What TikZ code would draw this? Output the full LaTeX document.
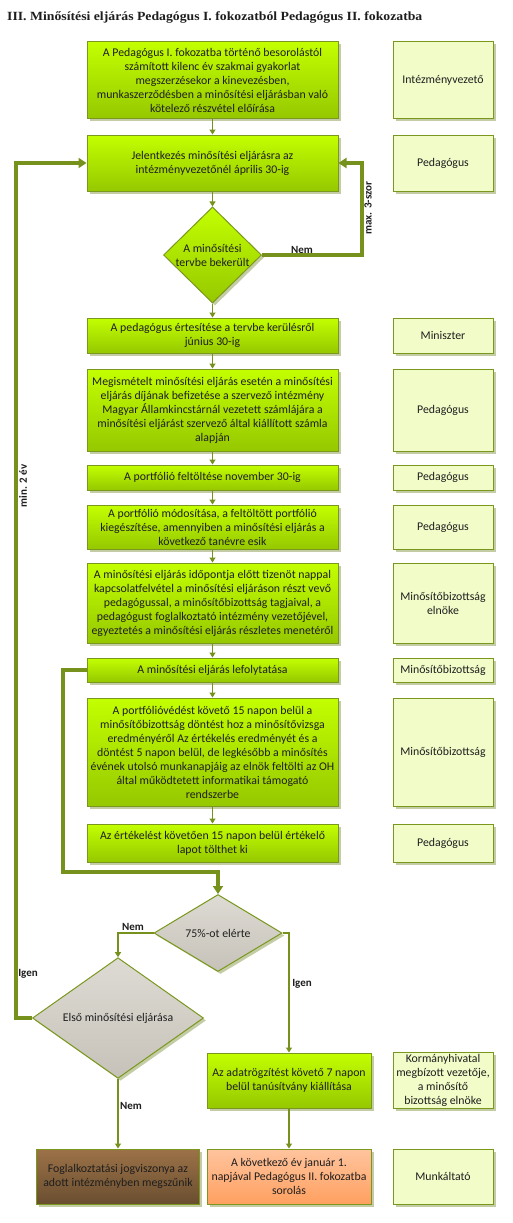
\documentclass[tikz,border=0pt]{standalone}
\usepackage{fontspec}
\setmainfont{Carlito}
\newfontfamily\titlefont[FakeStretch=1.1]{Liberation Serif}
\usetikzlibrary{arrows.meta,shapes.geometric,shadows}
\definecolor{gtop}{RGB}{195,255,0}
\definecolor{gbot}{RGB}{150,200,0}
\definecolor{gborder}{RGB}{122,152,30}
\definecolor{lineg}{RGB}{118,146,28}
\definecolor{rolefill}{RGB}{242,252,200}
\definecolor{shadowc}{RGB}{175,188,135}
\definecolor{graytop}{RGB}{222,219,212}
\definecolor{graybot}{RGB}{198,194,185}
\definecolor{browntop}{RGB}{156,114,72}
\definecolor{brownbot}{RGB}{106,78,48}
\definecolor{orangetop}{RGB}{255,196,158}
\definecolor{orangebot}{RGB}{255,160,96}
\definecolor{txt}{RGB}{30,30,30}
\tikzset{
  base/.style={draw=gborder, line width=1pt, inner sep=2pt, align=center,
    font=\fontsize{11.8}{14}\selectfont, text=txt,
    drop shadow={shadow xshift=2.5pt,shadow yshift=-2.5pt,fill=shadowc,opacity=0.75}},
  stepbox/.style={base, rectangle, top color=gtop, bottom color=gbot, minimum width=251pt},
  rolebox/.style={base, rectangle, fill=rolefill, minimum width=100pt},
  decision/.style={base, diamond, top color=graytop, bottom color=graybot, inner sep=0pt},
  greendecision/.style={base, diamond, top color=gtop, bottom color=gbot, inner sep=0pt},
  thinline/.style={draw=lineg, line width=1.3pt, -{Triangle[width=6pt,length=5pt]}},
  thickline/.style={draw=lineg, line width=3.2pt, -{Triangle[width=10pt,length=8pt]}},
  lbl/.style={font=\bfseries\fontsize{11}{12}\selectfont, text=txt, inner sep=0pt}
}
\begin{document}
\begin{tikzpicture}[x=1pt,y=-1pt]
\fill[white] (0,0) rectangle (512,1223);
\useasboundingbox (0,0) rectangle (512,1223);

\node[anchor=west, inner sep=0pt, font=\titlefont\bfseries\fontsize{12.5}{14}\selectfont, text=txt] (title) at (7,17)
  {III. Minősítési eljárás Pedagógus I. fokozatból Pedagógus II. fokozatba};

% main column
\node[stepbox, minimum height=76pt] (b1) at (212.5,80) {A Pedagógus I. fokozatba történő besorolástól\\számított kilenc év szakmai gyakorlat\\megszerzésekor a kinevezésben,\\munkaszerződésben a minősítési eljárásban való\\kötelező részvétel előírása};
\node[stepbox, minimum height=56pt] (b2) at (212.5,163) {Jelentkezés minősítési eljárásra az\\intézményvezetőnél április 30-ig};
\node[greendecision, minimum width=98pt, minimum height=96pt] (d1) at (212.5,255) {A minősítési\\tervbe bekerült};
\node[stepbox, minimum height=35pt] (b3) at (212.5,335.5) {A pedagógus értesítése a tervbe kerülésről\\június 30-ig};
\node[stepbox, minimum height=82pt] (b4) at (212.5,410) {Megismételt minősítési eljárás esetén a minősítési\\eljárás díjának befizetése a szervező intézmény\\Magyar Államkincstárnál vezetett számlájára a\\minősítési eljárást szervező által kiállított számla\\alapján};
\node[stepbox, minimum height=25pt] (b5) at (212.5,477.5) {A portfólió feltöltése november 30-ig};
\node[stepbox, minimum height=44pt] (b6) at (212.5,527) {A portfólió módosítása, a feltöltött portfólió\\kiegészítése, amennyiben a minősítési eljárás a\\következő tanévre esik};
\node[stepbox, minimum height=80pt] (b7) at (212.5,603) {A minősítési eljárás időpontja előtt tizenöt nappal\\kapcsolatfelvétel a minősítési eljáráson részt vevő\\pedagógussal, a minősítőbizottság tagjaival, a\\pedagógust foglalkoztató intézmény vezetőjével,\\egyeztetés a minősítési eljárás részletes menetéről};
\node[stepbox, minimum height=24pt] (b8) at (212.5,670) {A minősítési eljárás lefolytatása};
\node[stepbox, minimum height=108pt] (b9) at (212.5,752) {A portfólióvédést követő 15 napon belül a\\minősítőbizottság döntést hoz a minősítővizsga\\eredményéről Az értékelés eredményét és a\\döntést 5 napon belül, de legkésőbb a minősítés\\évének utolsó munkanapjáig az elnök feltölti az OH\\által működtetett informatikai támogató\\rendszerbe};
\node[stepbox, minimum height=38pt] (b10) at (212.5,843) {Az értékelést követően 15 napon belül értékelő\\lapot tölthet ki};

\node[decision, minimum width=128pt, minimum height=77pt] (d2) at (218,933) {75\%-ot elérte};
\node[decision, minimum width=171pt, minimum height=104pt] (d3) at (118,1018) {Első minősítési eljárása};

\node[stepbox, minimum width=164pt, minimum height=55pt] (b11) at (289,1080.5) {Az adatrögzítést követő 7 napon\\belül tanúsítvány kiállítása};
\node[base, rectangle, top color=browntop, bottom color=brownbot, minimum width=163pt, minimum height=55pt] (b12) at (118,1176.5) {Foglalkoztatási jogviszonya az\\adott intézményben megszűnik};
\node[base, rectangle, top color=orangetop, bottom color=orangebot, minimum width=164pt, minimum height=55pt] (b13) at (289,1176.5) {A következő év január 1.\\napjával Pedagógus II. fokozatba\\sorolás};

% role column
\node[rolebox, minimum height=76pt] (r1) at (443,80) {Intézményvezető};
\node[rolebox, minimum height=56pt] (r2) at (443,163) {Pedagógus};
\node[rolebox, minimum height=35pt] (r3) at (443,335.5) {Miniszter};
\node[rolebox, minimum height=82pt] (r4) at (443,410) {Pedagógus};
\node[rolebox, minimum height=25pt] (r5) at (443,477.5) {Pedagógus};
\node[rolebox, minimum height=44pt] (r6) at (443,527) {Pedagógus};
\node[rolebox, minimum height=80pt] (r7) at (443,603) {Minősítőbizottság\\elnöke};
\node[rolebox, minimum height=24pt] (r8) at (443,670) {Minősítőbizottság};
\node[rolebox, minimum height=108pt] (r9) at (443,752) {Minősítőbizottság};
\node[rolebox, minimum height=38pt] (r10) at (443,843) {Pedagógus};
\node[rolebox, minimum height=55pt] (r11) at (443,1080.5) {Kormányhivatal\\megbízott vezetője,\\a minősítő\\bizottság elnöke};
\node[rolebox, minimum height=55pt] (r12) at (443,1176.5) {Munkáltató};

% connectors
\draw[thinline] (b1.south) -- (b2.north);
\draw[thinline] (b2.south) -- (d1.north);
\draw[thinline] (d1.south) -- (b3.north);
\draw[thinline] (b3.south) -- (b4.north);
\draw[thinline] (b4.south) -- (b5.north);
\draw[thinline] (b5.south) -- (b6.north);
\draw[thinline] (b6.south) -- (b7.north);
\draw[thinline] (b7.south) -- (b8.north);
\draw[thinline] (b8.south) -- (b9.north);
\draw[thinline] (b9.south) -- (b10.north);

\draw[thickline] (d1.east) -- (362,255) |- (b2.east);
\draw[thickline] (d3.west) -- (16,1018) |- (b2.west);
\draw[thickline] (b8.west) -- (63,670) |- (218,872) -- (d2.north);

\draw[thinline] (d2.west) -| (d3.north);
\draw[thinline] (d2.east) -| (b11.north);
\draw[thinline] (d3.south) -- (b12.north);
\draw[thinline] (b11.south) -- (b13.north);

% labels
\node[lbl] (nem1) at (302,250) {Nem};
\node[lbl, rotate=90] (max3) at (368,208) {max. 3-szor};
\node[lbl, rotate=90] (min2) at (23,486) {min. 2 év};
\node[lbl] (igen1) at (28,974) {Igen};
\node[lbl] (nem2) at (133,927) {Nem};
\node[lbl] (igen2) at (302,984) {Igen};
\node[lbl] (nem3) at (131,1106) {Nem};
\end{tikzpicture}
\end{document}
